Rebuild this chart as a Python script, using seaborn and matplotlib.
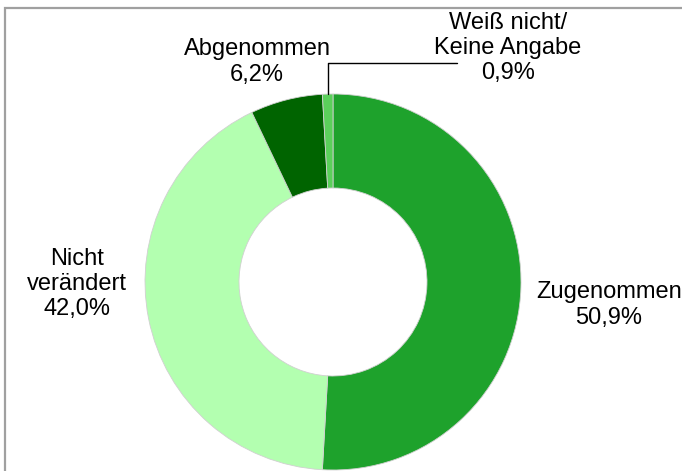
import numpy as np
import matplotlib
matplotlib.use("Agg")
import matplotlib.pyplot as plt
import seaborn as sns
from matplotlib.patches import Rectangle

# chart data
categories = ["Zugenommen", "Nicht\nverändert", "Abgenommen", "Weiß nicht/\nKeine Angabe"]
shares = [50.9, 42.0, 6.2, 0.9]
colors = ["#1ea22c", "#b3ffb0", "#006400", "#5bd05b"]

sns.set_theme(style="white")
plt.rcParams["font.family"] = ["Liberation Sans", "DejaVu Sans"]

fig = plt.figure(figsize=(6.82, 4.71), dpi=100)
ax = fig.add_axes([0, 0, 1, 1])
ax.set_xlim(0, 682)
ax.set_ylim(0, 471)
ax.set_aspect("equal")
ax.axis("off")

# chart frame (runs off right and bottom edge)
ax.add_patch(Rectangle((5, -20), 700, 483, fill=False, edgecolor="#a0a0a0", linewidth=1.6))

center = (333, 189)
radius = 188
wedges, _ = ax.pie(shares, colors=colors, startangle=90, counterclock=False,
                   center=center, radius=radius, frame=True,
                   wedgeprops=dict(width=radius * 0.5, edgecolor="#d0d0d0", linewidth=0.6))
ax.set_xlim(0, 682)
ax.set_ylim(0, 471)
ax.axis("off")

labels = [f"{c}\n{str(v).replace('.', ',')}%" for c, v in zip(categories, shares)]
label_pos = [(609, 166), (77, 187), (257, 409), (508, 423)]
for lab, (x, y) in zip(labels, label_pos):
    ax.text(x, y, lab, ha="center", va="center", fontsize=17, color="black", linespacing=1.2)

# leader line for the small slice
w = wedges[3]
mid = np.deg2rad((w.theta1 + w.theta2) / 2)
lx = center[0] + radius * np.cos(mid)
ly = center[1] + radius * np.sin(mid)
ax.plot([lx, lx, 457], [ly, 408, 408], color="black", linewidth=1)

fig.savefig("out.png", dpi=100)
